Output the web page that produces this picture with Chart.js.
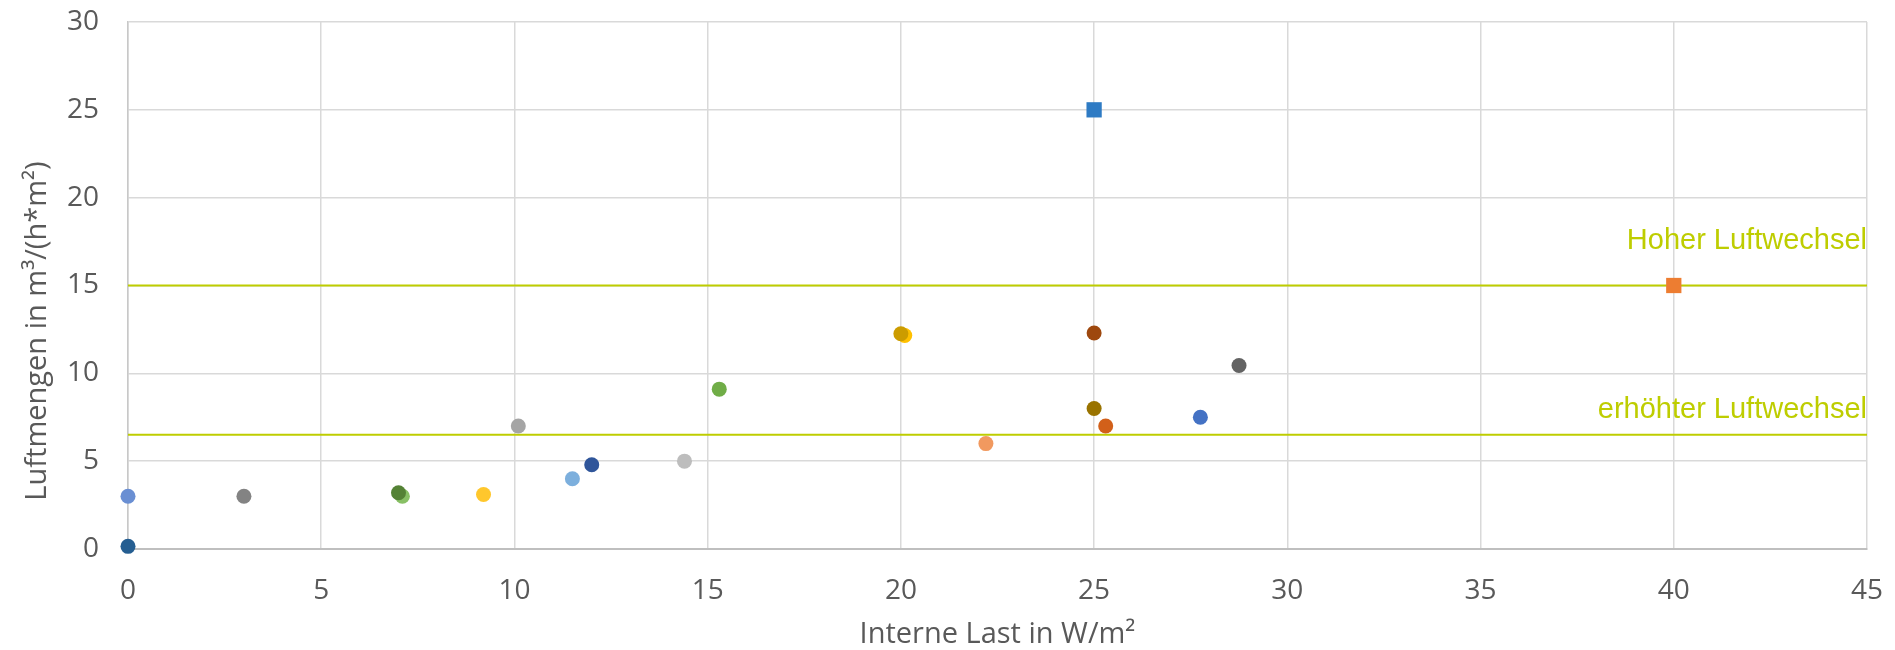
<!DOCTYPE html>
<html lang="de">
<head>
    <meta charset="UTF-8">
    <title>Luftmengen</title>
    <script src="https://cdn.jsdelivr.net/npm/chart.js"></script>
    <style>
        body { margin: 0; background: #fff; }
        #wrap { width: 1895px; height: 650px; }
    </style>
</head>
<body>
    <div id="wrap"><canvas id="chart" width="1895" height="650"></canvas></div>

    <script>
        // Messpunkte (x: interne Last, y: Luftmenge)
        const lastWerte = [0, 0, 3, 7.1, 7.0, 9.2, 10.1, 11.5, 12.0, 14.4, 15.3, 20.1, 20.0, 22.2, 25, 25, 25, 25.3, 27.75, 28.75, 40];
        const luftWerte = [3.0, 0.15, 3.0, 3.0, 3.2, 3.1, 7.0, 4.0, 4.8, 5.0, 9.1, 12.15, 12.25, 6.0, 25, 12.3, 8.0, 7.0, 7.5, 10.45, 15];
        const punktFarben = ['#6A8FD3', '#255E91', '#838383', '#88C065', '#548235', '#FFC72C', '#A5A5A5', '#7CAFDD', '#2F559A', '#BDBDBD', '#70AD47',
            '#FFC000', '#CC9C00', '#F1995F', '#2E7BC4', '#9E480E', '#997300', '#D2601A', '#4472C4', '#636363', '#ED7D31'];
        const punktFormen = ['circle', 'circle', 'circle', 'circle', 'circle', 'circle', 'circle', 'circle', 'circle', 'circle', 'circle',
            'circle', 'circle', 'circle', 'rect', 'circle', 'circle', 'circle', 'circle', 'circle', 'rect'];

        // Grenzlinien
        const grenzWerte = [15, 6.5];
        const grenzNamen = ['Hoher Luftwechsel', 'erhöhter Luftwechsel'];
        const grenzTextY = [17.1, 7.45];

        // Achsen
        const xBereich = [0, 45];
        const yBereich = [0, 30];
        const tickSchritt = 5;

        const gruen = '#BECD00';
        const grau = '#595959';

        const punkte = lastWerte.map((x, i) => ({ x: x, y: luftWerte[i] }));

        const grenzDatasets = grenzWerte.map((wert, i) => ({
            type: 'line',
            label: grenzNamen[i],
            data: [{ x: xBereich[0], y: wert }, { x: xBereich[1], y: wert }],
            borderColor: gruen,
            borderWidth: 2,
            pointRadius: 0,
            fill: false
        }));

        // Titel und Beschriftungen der Grenzlinien
        const textPlugin = {
            id: 'texte',
            afterDraw(chart) {
                const ctx = chart.ctx;
                const xs = chart.scales.x, ys = chart.scales.y;
                ctx.save();
                ctx.fillStyle = gruen;
                ctx.font = '29px "Liberation Sans", Arial, sans-serif';
                ctx.textAlign = 'right';
                ctx.textBaseline = 'alphabetic';
                grenzNamen.forEach((name, i) => {
                    ctx.fillText(name, xs.getPixelForValue(xBereich[1]), ys.getPixelForValue(grenzTextY[i]));
                });

                ctx.fillStyle = grau;
                ctx.font = '29px "Open Sans", sans-serif';
                ctx.textAlign = 'center';
                ctx.fillText('Interne Last in W/m²', (chart.chartArea.left + chart.chartArea.right) / 2, 643);

                ctx.translate(46, 331);
                ctx.rotate(-Math.PI / 2);
                ctx.fillText('Luftmengen in m³/(h*m²)', 0, 0);
                ctx.restore();
            }
        };

        new Chart(document.getElementById('chart'), {
            type: 'scatter',
            data: {
                datasets: [{
                    label: 'Messpunkte',
                    data: punkte,
                    clip: false,
                    pointBackgroundColor: punktFarben,
                    pointBorderWidth: 0,
                    pointStyle: punktFormen,
                    pointRadius: punktFormen.map(f => f === 'rect' ? 10.8 : 7.5),
                    pointHoverRadius: punktFormen.map(f => f === 'rect' ? 10.8 : 7.5)
                }, ...grenzDatasets]
            },
            options: {
                responsive: false,
                animation: false,
                layout: { padding: { left: 0, right: 28, top: 22, bottom: 0 } },
                plugins: { legend: { display: false }, tooltip: { enabled: false } },
                scales: {
                    x: {
                        type: 'linear',
                        min: xBereich[0], max: xBereich[1],
                        // feste Höhe, Überstand der Beschriftung nicht als Rand zählen
                        afterFit: s => { s.height = 101; s.paddingLeft = 0; s.paddingRight = 0; },
                        ticks: { stepSize: tickSchritt, padding: 25, color: grau, font: { family: 'Open Sans', size: 28 } },
                        grid: { color: '#D9D9D9', lineWidth: 1.5, drawTicks: false },
                        border: { color: '#BFBFBF', width: 2 }
                    },
                    y: {
                        min: yBereich[0], max: yBereich[1],
                        afterFit: s => { s.width = 128; s.paddingTop = 0; s.paddingBottom = 0; },
                        ticks: { stepSize: tickSchritt, padding: 29, color: grau, font: { family: 'Open Sans', size: 28 } },
                        grid: { color: '#D9D9D9', lineWidth: 1.5, drawTicks: false },
                        border: { color: '#C8C8C8', width: 1.5 }
                    }
                }
            },
            plugins: [textPlugin]
        });
    </script>
</body>
</html>
